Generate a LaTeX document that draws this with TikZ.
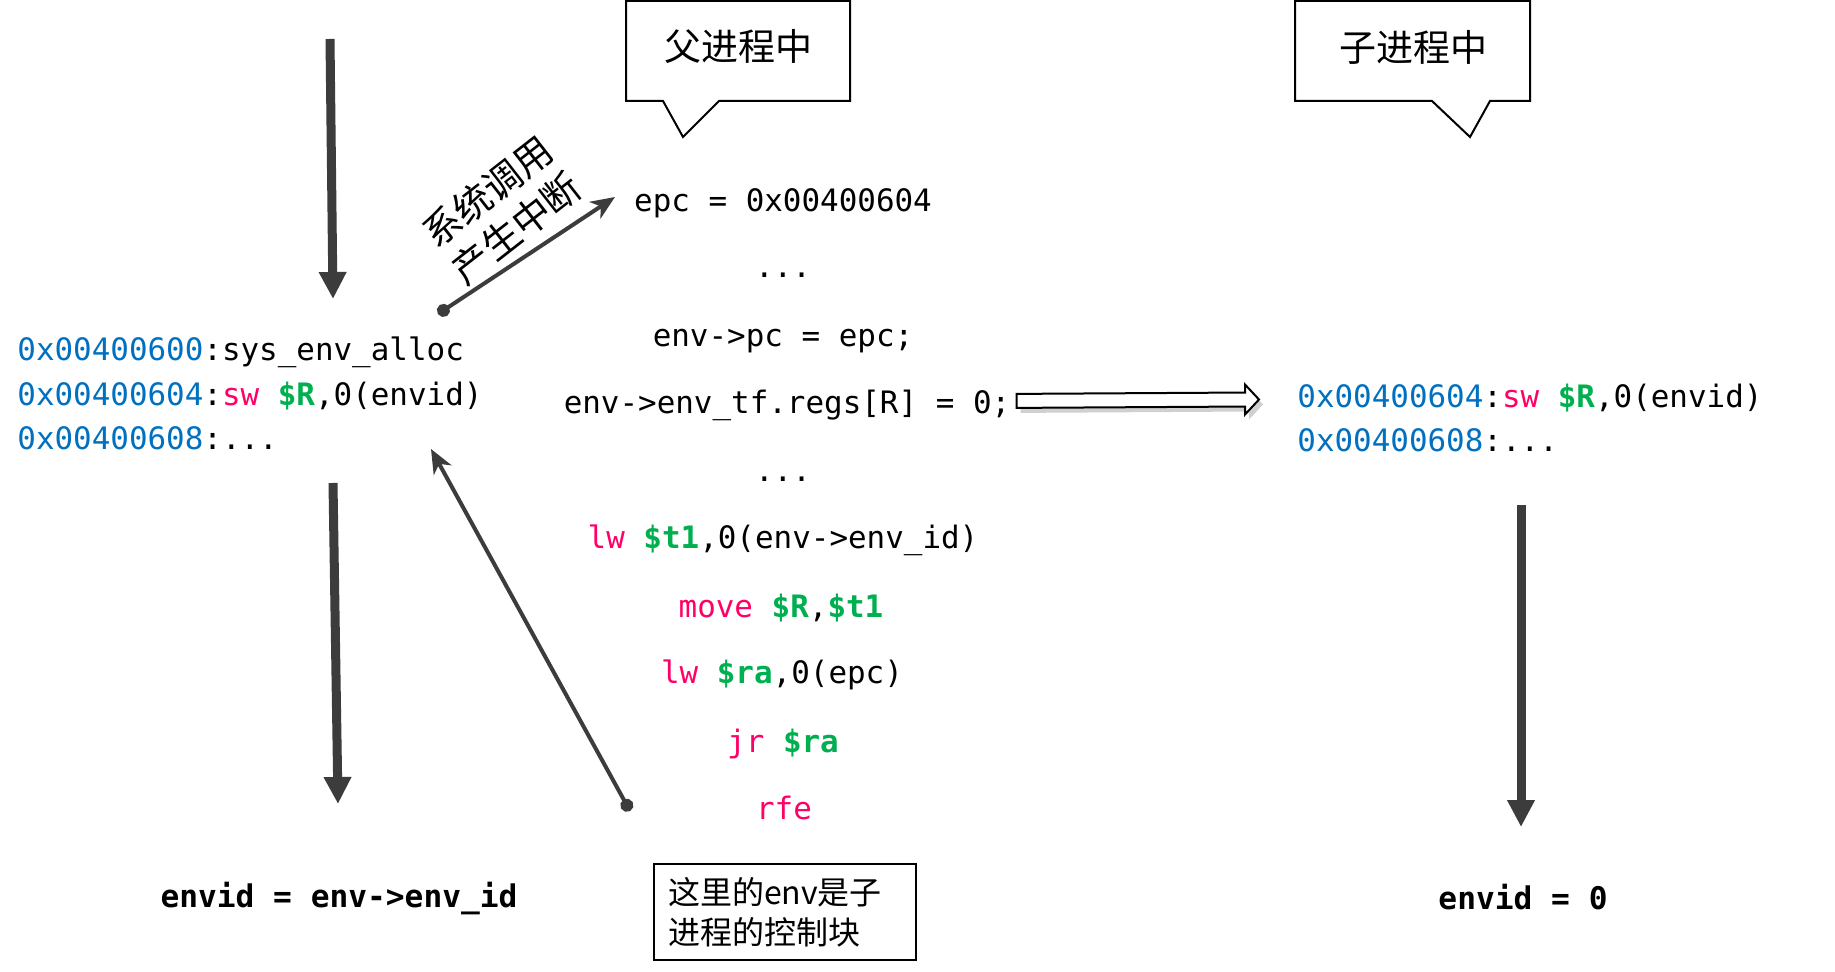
\documentclass[tikz,border=0pt]{standalone}
\usepackage{fontspec}
\usetikzlibrary{arrows.meta,calc}
\newfontfamily\mono{DejaVu Sans Mono}
\newfontfamily\cjk{Noto Sans CJK SC}
\definecolor{addr}{RGB}{0,112,192}
\definecolor{op}{RGB}{255,0,102}
\definecolor{reg}{RGB}{0,176,80}
\definecolor{arr}{RGB}{60,60,60}
\begin{document}
\begin{tikzpicture}[x=0.5pt,y=-0.5pt,
  code/.style={inner sep=0pt, font=\mono\fontsize{15.45pt}{18pt}\selectfont},
  lcode/.style={code, anchor=base west},
  ccode/.style={code, anchor=base},
  flow/.style={draw=arr, line width=4.5pt, -{Triangle[length=13.5pt,width=13pt]}},
  jump/.style={draw=arr, line width=2pt, {Circle[length=6.5pt]}-{Stealth[length=12pt,width=10pt,inset=3.5pt]}},
  callout/.style={draw=black, line width=1pt, fill=white},
  titletext/.style={inner sep=0pt, font=\cjk\fontsize{18.5pt}{22pt}\selectfont}]
\useasboundingbox (0,0) rectangle (1835,972);
\fill[white] (0,0) rectangle (1835,972);

% callouts
\draw[callout] (626,1) -- (850,1) -- (850,101) -- (719,101) -- (683,137) -- (663,101) -- (626,101) -- cycle;
\node[titletext] (parent) at (738,47) {父进程中};
\draw[callout] (1295,1) -- (1530,1) -- (1530,101) -- (1490,101) -- (1470,137) -- (1432,101) -- (1295,101) -- cycle;
\node[titletext] (child) at (1413,47) {子进程中};

% left block
\node[lcode] (l1) at (17,361) {{\color{addr}0x00400600}:sys\_env\_alloc};
\node[lcode] (l2) at (17,406) {{\color{addr}0x00400604}:{\color{op}sw} {\bfseries\color{reg}\$R},0(envid)};
\node[lcode] (l3) at (17,450) {{\color{addr}0x00400608}:...};

% middle block
\node[ccode] (m1) at (783,212) {epc = 0x00400604};
\node[ccode] (m2) at (783,278) {...};
\node[ccode] (m3) at (783,347) {env->pc = epc;};
\node[ccode] (regs) at (787,414) {env->env\_tf.regs[R] = 0;};
\node[ccode] (m5) at (783,482) {...};
\node[ccode] (m6) at (783,548) {{\color{op}lw} {\bfseries\color{reg}\$t1},0(env->env\_id)};
\node[ccode] (m7) at (781,617) {{\color{op}move} {\bfseries\color{reg}\$R},{\bfseries\color{reg}\$t1}};
\node[ccode] (m8) at (782,683) {{\color{op}lw} {\bfseries\color{reg}\$ra},0(epc)};
\node[ccode] (m9) at (783,752) {{\color{op}jr} {\bfseries\color{reg}\$ra}};
\node[ccode] (m10) at (784,819) {{\color{op}rfe}};

% child block
\node[lcode] (c1) at (1297,408) {{\color{addr}0x00400604}:{\color{op}sw} {\bfseries\color{reg}\$R},0(envid)};
\node[lcode] (c2) at (1297,452) {{\color{addr}0x00400608}:...};

% results
\node[code, anchor=base, font=\mono\bfseries\fontsize{15.6pt}{18pt}\selectfont] (res1) at (339,907) {envid = env->env\_id};
\node[code, anchor=base, font=\mono\bfseries\fontsize{15.6pt}{18pt}\selectfont] (res2) at (1523,909) {envid = 0};

% note box
\node[draw=black, line width=1pt, minimum width=131pt, minimum height=48pt, text width=117pt, align=left, inner sep=0pt,
      font=\cjk\fontsize{16pt}{20pt}\selectfont] (note) at (785,912) {这里的env是子\\进程的控制块};

% rotated label
\node[rotate=38, align=center, inner sep=0pt, font=\cjk\fontsize{19pt}{23pt}\selectfont] (irq) at (502,210) {系统调用\\产生中断};

% flow arrows
\coordinate (f1s) at (330,39);  \coordinate (f1e) at (333,299);
\coordinate (f2s) at (333,483); \coordinate (f2e) at (338,804);
\coordinate (f3s) at (1521,505); \coordinate (f3e) at (1521,827);
\draw[flow] (f1s) -- (f1e);
\draw[flow] (f2s) -- (f2e);
\draw[flow] (f3s) -- (f3e);

% jump arrows
\coordinate (j1s) at (438,314); \coordinate (j1e) at (615,197);
\coordinate (j2s) at (630,811); \coordinate (j2e) at (431,449);
\draw[jump] (j1s) -- (j1e);
\draw[jump] (j2s) -- (j2e);

% hollow arrow from regs to child block
\coordinate (hs) at ($(regs.east)+(6,-5)$);
\coordinate (he) at ($(c1.west)+(-38,1)$);
\fill[black!30, opacity=0.6] ($(hs)+(4,-2)$) -- ($(he)+(-10,-2)$) -- ($(he)+(-10,-10)$) -- ($(he)+(4,5)$) -- ($(he)+(-10,20)$) -- ($(he)+(-10,12)$) -- ($(hs)+(4,12)$) -- cycle;
\draw[line width=1pt, fill=white] ($(hs)+(0,-7)$) -- ($(he)+(-14,-7)$) -- ($(he)+(-14,-15)$) -- (he) -- ($(he)+(-14,15)$) -- ($(he)+(-14,7)$) -- ($(hs)+(0,7)$) -- cycle;
\end{tikzpicture}
\end{document}
